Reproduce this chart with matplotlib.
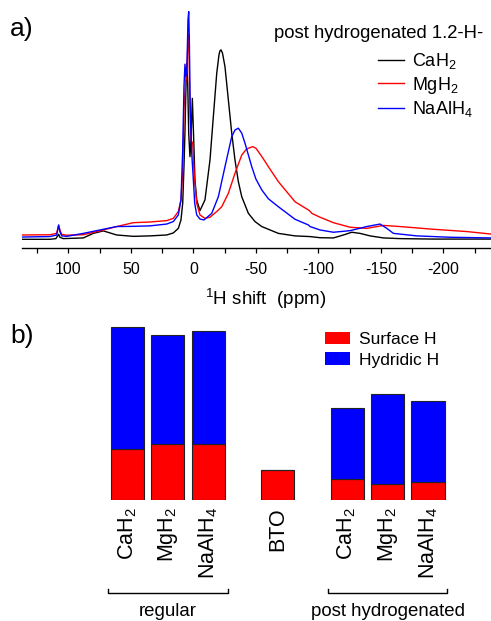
import numpy as np
import matplotlib
matplotlib.use("Agg")
import matplotlib.pyplot as plt
from matplotlib.patches import Patch
from matplotlib.ticker import MultipleLocator

# ---- a) 1H NMR spectra, post hydrogenated samples (intensity in arb. units)
ppm_ca = [137.1, 114.7, 109.9, 107.7, 106.7, 104.0, 88.0, 80.0, 72.0, 61.3,
          48.0, 34.7, 21.3, 16.0, 12.0, 9.9, 8.5, 7.5, 6.7, 5.9,
          5.3, 4.5, 3.7, 2.7, 1.9, 0.8, -0.3, -1.3, -2.7, -5.3,
          -9.3, -13.3, -16.0, -18.7, -20.5, -21.3, -22.1, -23.3, -25.3, -28.0,
          -30.7, -33.3, -36.0, -38.7, -44.0, -49.3, -54.7, -68.0, -81.3, -93.3,
          -101.3, -112.0, -120.0, -126.7, -133.3, -141.3, -152.0, -165.3, -192.0, -238.1]
int_ca = [0.0, 0.0, 0.3, 2.2, 0.9, 0.3, 0.6, 2.6, 3.7, 1.9,
          1.3, 1.5, 1.9, 2.8, 4.8, 8.5, 15.8, 31.9, 47.3, 67.0,
          77.3, 68.5, 46.6, 36.3, 43.6, 61.9, 43.6, 26.1, 17.3, 12.6,
          17.3, 34.8, 53.9, 72.9, 81.0, 82.8, 83.2, 81.8, 75.8, 61.2,
          46.6, 34.8, 25.3, 18.7, 11.4, 7.8, 5.6, 2.6, 1.5, 1.2,
          0.7, 0.6, 1.9, 3.1, 2.6, 1.5, 0.6, 0.3, 0.1, 0.1]

ppm_mg = [137.1, 114.7, 109.3, 107.7, 106.7, 105.3, 101.3, 88.0, 74.7, 61.3,
          48.0, 34.7, 21.3, 16.0, 12.0, 9.9, 8.5, 7.5, 6.4, 5.6,
          4.5, 3.7, 2.9, 1.9, 0.5, -0.8, -2.7, -5.3, -9.3, -13.3,
          -18.7, -22.7, -28.0, -33.3, -38.7, -42.0, -44.0, -47.5, -50.0, -52.0,
          -56.0, -60.0, -68.0, -81.3, -92.8, -94.7, -101.3, -112.0, -125.3, -138.7,
          -152.0, -165.3, -192.0, -218.7, -238.1]
int_mg = [1.9, 2.0, 2.6, 6.1, 4.1, 2.2, 1.8, 2.0, 3.7, 5.6,
          7.3, 7.6, 8.2, 9.2, 12.2, 17.3, 29.0, 56.8, 67.8, 71.4,
          84.0, 90.0, 64.0, 43.6, 42.2, 27.5, 15.8, 10.7, 9.2, 9.7,
          12.2, 14.3, 20.2, 29.0, 37.0, 39.3, 40.0, 40.7, 40.0, 38.5,
          35.3, 31.9, 25.3, 16.5, 12.6, 11.4, 9.7, 7.3, 5.3, 4.8,
          6.1, 5.6, 4.4, 3.4, 2.3]

ppm_na = [137.1, 114.7, 109.3, 107.7, 106.7, 105.3, 101.3, 88.0, 74.7, 61.3,
          48.0, 34.7, 21.3, 16.0, 12.0, 9.9, 8.5, 7.5, 6.7, 5.9,
          5.1, 4.3, 3.7, 3.2, 2.4, 1.3, 0.3, -1.1, -2.7, -5.3,
          -8.5, -14.7, -20.0, -25.3, -30.7, -33.3, -36.0, -38.7, -41.3, -46.7,
          -50.0, -54.7, -60.0, -68.0, -81.3, -92.0, -93.3, -101.3, -112.0, -125.3,
          -138.7, -149.3, -154.7, -160.0, -178.7, -205.3, -238.1]
int_na = [1.0, 1.2, 1.9, 6.3, 3.4, 1.5, 1.3, 2.6, 4.1, 5.6,
          5.7, 5.9, 6.7, 7.8, 10.7, 17.3, 39.2, 67.0, 76.9, 71.4,
          75.8, 96.3, 100.0, 87.6, 53.9, 37.8, 29.0, 15.8, 10.7, 8.9,
          8.5, 11.4, 18.7, 31.9, 45.1, 48.0, 48.8, 46.6, 42.2, 31.9,
          26.5, 21.7, 17.8, 14.3, 8.8, 6.3, 5.6, 4.1, 3.1, 3.8,
          5.6, 6.7, 4.8, 2.6, 1.5, 0.9, 0.6]

spec_labels = ["CaH$_2$", "MgH$_2$", "NaAlH$_4$"]

# ---- b) surface vs hydridic H (arb. units)
bar_labels = ["CaH$_2$", "MgH$_2$", "NaAlH$_4$", "BTO", "CaH$_2$", "MgH$_2$", "NaAlH$_4$"]
surface_h = [29.4, 32.5, 32.5, 17.3, 12.3, 9.2, 10.6]
hydridic_h = [70.6, 62.9, 64.8, 0.0, 40.6, 52.0, 46.4]
groups = ["regular", "post hydrogenated"]

plt.rcParams['font.family'] = ['Liberation Sans', 'DejaVu Sans']
plt.rcParams['mathtext.fontset'] = 'custom'
plt.rcParams['mathtext.rm'] = 'Liberation Sans'
plt.rcParams['mathtext.it'] = 'Liberation Sans:italic'
plt.rcParams['mathtext.bf'] = 'Liberation Sans:bold'
plt.rcParams['axes.unicode_minus'] = False

W, H = 491, 621
fig = plt.figure(figsize=(W / 100, H / 100), dpi=100)

# top panel
ax1 = fig.add_axes([22 / W, 1 - 248.3 / H, 1 - 22 / W, 248.3 / H])
ax1.plot(ppm_ca, int_ca, color='black', lw=1.0, label=spec_labels[0])
ax1.plot(ppm_mg, int_mg, color='red', lw=1.0, label=spec_labels[1])
ax1.plot(ppm_na, int_na, color='blue', lw=1.0, label=spec_labels[2])
ax1.set_xlim(137, -238)
ax1.set_ylim(-3.95, 105.1)
for s in ['left', 'right', 'top']:
    ax1.spines[s].set_visible(False)
ax1.spines['bottom'].set_linewidth(1.0)
ax1.set_yticks([])
ax1.xaxis.set_major_locator(MultipleLocator(50))
ax1.xaxis.set_minor_locator(MultipleLocator(25))
ax1.tick_params(axis='x', which='both', direction='out', length=3.6, width=0.9,
                labelsize=11.5, pad=6.5)
ax1.set_xlabel("$^1$H shift  (ppm)", fontsize=13.5)
ax1.xaxis.set_label_coords(0.52, -0.155)

fig.text(10 / W, 1 - 29 / H, "a)", fontsize=19, va='center', ha='left')
fig.text(483 / W, 1 - 33 / H, "post hydrogenated 1.2-H-", fontsize=13.3,
         va='center', ha='right')
ax1.legend(loc='upper left', bbox_to_anchor=(378 / W, 1 - 51 / H),
           bbox_transform=fig.transFigure, frameon=False, fontsize=13,
           handlelength=1.44, handletextpad=0.43, labelspacing=0.2,
           borderpad=0, borderaxespad=0)

# bottom panel
pos = np.array([0, 1, 2, 3.72, 5.44, 6.44, 7.44])
ax2 = fig.add_axes([22 / W, (H - 500) / H, 1 - 22 / W, 190 / H])
ax2.bar(pos, surface_h, width=0.82, color='red', edgecolor='#222222', lw=0.8)
ax2.bar(pos, hydridic_h, width=0.82, bottom=surface_h, color='blue',
        edgecolor='#222222', lw=0.8)
ax2.set_xlim(-2.61, 9.0)
ax2.set_ylim(0, 109.6)
for s in ax2.spines.values():
    s.set_visible(False)
ax2.set_yticks([])
ax2.set_xticks(pos)
ax2.set_xticklabels(bar_labels, rotation=90, fontsize=15.5)
ax2.tick_params(axis='x', length=0, pad=5)

fig.text(10 / W, 1 - 336 / H, "b)", fontsize=19, va='center', ha='left')
ax2.legend([Patch(facecolor='red'), Patch(facecolor='blue')],
           ["Surface H", "Hydridic H"], loc='upper left',
           bbox_to_anchor=(325 / W, 1 - 332 / H), bbox_transform=fig.transFigure,
           frameon=False, fontsize=12.5, handlelength=1.45, handleheight=0.72,
           handletextpad=0.48, labelspacing=0.3, borderpad=0, borderaxespad=0)

# group brackets
for grp, (i0, i1) in zip(groups, [(0, 2), (4, 6)]):
    x0, x1 = pos[i0] - 0.48, pos[i1] + 0.48
    ax2.plot([x0, x0, x1, x1], [-51.2, -53.8, -53.8, -51.2], color='black',
             lw=1.0, clip_on=False)
    ax2.text((x0 + x1) / 2, -66.9, grp, fontsize=13.4, ha='center',
             va='baseline', clip_on=False)

fig.savefig("out.png", dpi=100)
